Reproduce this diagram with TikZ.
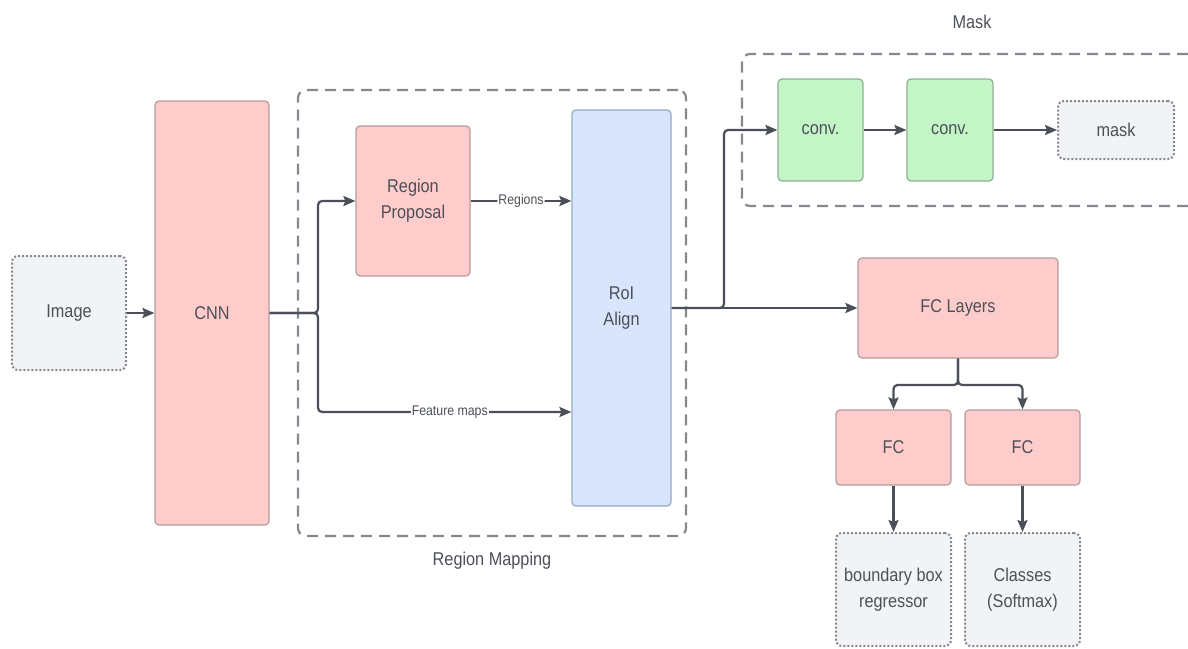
\documentclass[tikz,border=0pt]{standalone}
\usepackage{fontspec}
\setmainfont[FakeStretch=0.88]{Liberation Sans}
\usetikzlibrary{arrows.meta}
\definecolor{pinkf}{HTML}{FFCCCC}
\definecolor{pinkd}{HTML}{B89A9D}
\definecolor{bluef}{HTML}{D9E5FC}
\definecolor{blued}{HTML}{98A8C4}
\definecolor{greenf}{HTML}{C3F5C6}
\definecolor{greend}{HTML}{8FAF92}
\definecolor{grayf}{HTML}{F2F3F5}
\definecolor{lnc}{HTML}{4A4F58}
\definecolor{txc}{HTML}{4C5058}
\definecolor{dsh}{HTML}{85888E}
\tikzset{
  x=1pt,y=-1pt,
  every node/.style={text=txc,font=\fontsize{18.5}{26}\selectfont,align=center,inner sep=0pt},
  blk/.style={draw,rounded corners=4pt,line width=1.2pt},
  pinkbox/.style={blk,fill=pinkf,draw=pinkd},
  bluebox/.style={blk,fill=bluef,draw=blued},
  greenbox/.style={blk,fill=greenf,draw=greend},
  iobox/.style={rounded corners=6pt,fill=grayf,draw=dsh,line width=2pt,dash pattern=on 2pt off 2pt},
  grp/.style={draw=dsh,line width=2.2pt,dash pattern=on 11pt off 7pt,rounded corners=8pt},
  conn/.style={draw=lnc,line width=2.2pt,rounded corners=4pt,-{Stealth[length=12pt,width=10pt,inset=2pt]}},
  lbl/.style={font=\fontsize{14}{16}\selectfont,fill=white,inner sep=1pt},
}
\begin{document}
\begin{tikzpicture}
\useasboundingbox (0,0) rectangle (1188,648);
\fill[white] (0,0) rectangle (1188,648);
% group boxes
\node[grp,minimum width=388,minimum height=446] (rm) at (492,313) {};
\node (rmlbl) at (492,561) {Region Mapping};
\draw[grp,rounded corners=0pt] (1188,54) -- (750,54) to[out=180,in=90] (742,62) -- (742,198) to[out=-90,in=180] (750,206) -- (1188,206);
\node (masklbl) at (972,22) {Mask};
% nodes
\node[iobox,minimum width=114,minimum height=114] (img) at (69,313) {Image};
\node[pinkbox,minimum width=114,minimum height=424] (cnn) at (212,313) {CNN};
\node[pinkbox,minimum width=114,minimum height=150] (rp) at (413,201) {Region\\Proposal};
\node[bluebox,minimum width=99,minimum height=396] (roi) at (621.5,308) {RoI\\Align};
\node[greenbox,minimum width=85,minimum height=102] (c1) at (820.5,130) {conv.};
\node[greenbox,minimum width=86,minimum height=102] (c2) at (950,130) {conv.};
\node[iobox,minimum width=116,minimum height=58] (mask) at (1116,130) {mask};
\node[pinkbox,minimum width=200,minimum height=100] (fcl) at (958,308) {FC Layers};
\node[pinkbox,minimum width=115,minimum height=75] (fc1) at (893.5,447.5) {FC};
\node[pinkbox,minimum width=115,minimum height=75] (fc2) at (1022.5,447.5) {FC};
\node[iobox,minimum width=115,minimum height=113] (bbr) at (893.5,589.5) {boundary box\\regressor};
\node[iobox,minimum width=115,minimum height=113] (cls) at (1022.5,589.5) {Classes\\(Softmax)};
% connectors
\draw[conn] (img.east) -- (cnn.west);
\draw[conn] (cnn.east) -- (318,313) |- (rp.west);
\draw[conn] (cnn.east) -- (318,313) |- node[lbl,pos=0.76] {Feature maps} (roi.west |- 0,412);
\draw[conn] (rp.east) -- node[lbl] {Regions} (roi.west |- rp.east);
\draw[conn] (roi.east) -- (fcl.west);
\draw[conn] (roi.east) -- (724,308) |- (c1.west);
\draw[conn] (c1.east) -- (c2.west);
\draw[conn] (c2.east) -- (mask.west);
\draw[conn] (fcl.south) -- (958,385) -| (fc1.north);
\draw[conn] (fcl.south) -- (958,385) -| (fc2.north);
\draw[conn] (fc1.south) -- (bbr.north);
\draw[conn] (fc2.south) -- (cls.north);
\end{tikzpicture}
\end{document}
